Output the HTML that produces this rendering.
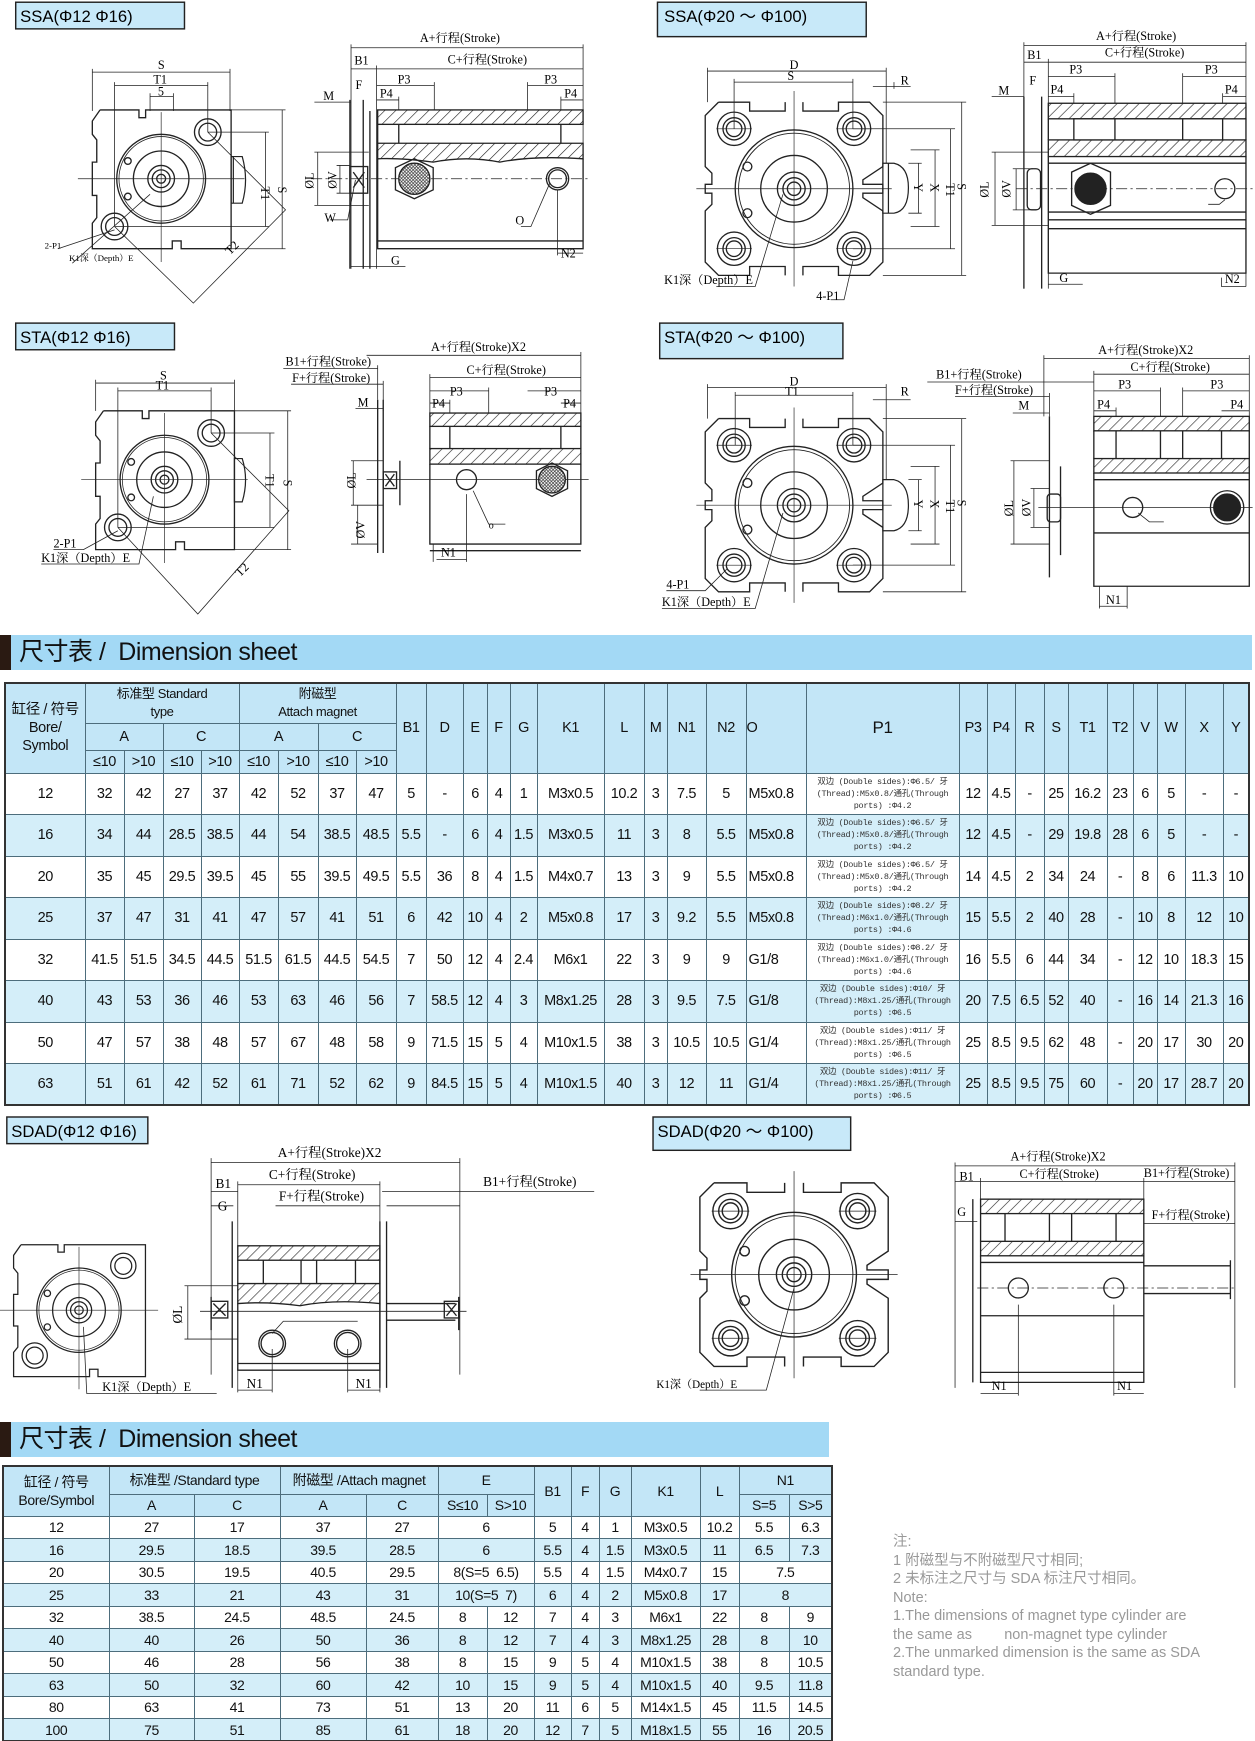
<!DOCTYPE html>
<html><head><meta charset="utf-8">
<style>
html,body{margin:0;padding:0;background:#fff;}
#wrap{position:relative;width:1255px;height:1741px;overflow:hidden;font-family:"Liberation Sans","Noto Sans CJK SC",sans-serif;}
svg{position:absolute;left:0;top:0;}
.ban{position:absolute;left:0;background:#a3d9f5;border-left:11px solid #2a1a12;box-sizing:border-box;font-size:25px;color:#111;padding-left:8px;line-height:35px;letter-spacing:-0.5px;}
table{position:absolute;border-collapse:collapse;table-layout:fixed;font-family:"Liberation Sans","Noto Sans CJK SC",sans-serif;color:#111;}
td{border:1px solid #4d6d7c;text-align:center;padding:0;overflow:hidden;white-space:nowrap;}
#t1{left:4px;top:682px;width:1244px;font-size:14.5px;letter-spacing:-0.4px;border:2px solid #333;}
#t1 .h td{background:#c3e6f7;}
#t1 tr.b td{background:#d4eef9;}
#t1 tr.w td{background:#fff;}
#t1 td.p{font-size:8.5px;line-height:12px;white-space:normal;font-family:"Liberation Mono","Noto Sans CJK SC",monospace;color:#333;letter-spacing:-0.3px;}
#t1 td.o{text-align:left;padding-left:2px;}
#t2{left:2px;top:1465px;width:829px;font-size:14px;letter-spacing:-0.4px;border:2px solid #333;}
#t2 .h td{background:#c3e6f7;}
#t2 tr.b td{background:#d4eef9;}
#t2 tr.w td{background:#fff;}
.note{position:absolute;left:893px;top:1533px;color:#999;font-size:14.5px;line-height:18.5px;width:340px;}
</style></head><body><div id="wrap">
<svg width="1255" height="1741" viewBox="0 0 1130 1568" xmlns="http://www.w3.org/2000/svg" font-family="Liberation Serif,Noto Serif CJK SC,serif" font-size="11">
<defs>
<pattern id="h" width="7" height="7" patternUnits="userSpaceOnUse" patternTransform="rotate(45)"><rect width="7" height="7" fill="#fff"/><line x1="0" y1="0" x2="0" y2="7" stroke="#222" stroke-width="1.1"/></pattern>
<pattern id="m" width="3" height="3" patternUnits="userSpaceOnUse"><rect width="3" height="3" fill="#fff"/><path d="M0 0L3 3M3 0L0 3" stroke="#333" stroke-width="0.6"/></pattern>
<g id="bigf" fill="none" stroke="#222" stroke-width="1.2">
 <path d="M-68,-78 H-40 V-70 H-8 V-78 M8,-78 V-70 H40 V-78 H68 L80,-66 V-20 L62,-8 V-4 H80 V4 H62 V8 L80,20 V66 L68,78 H40 V70 H8 V78 M-8,78 V70 H-40 V78 H-68 L-80,66 V20 L-74,14 V4 H-80 V-4 H-74 V-14 L-80,-20 V-66 L-68,-78"/>
 <circle r="53"/><circle r="50" stroke-width="0.8"/><circle r="30"/><circle r="15"/><circle r="10"/><circle r="6"/>
 <circle cx="-42" cy="-20" r="4"/><circle cx="-42" cy="22" r="4"/>
 <circle cx="-54" cy="-54" r="15"/><circle cx="-54" cy="-54" r="10"/><circle cx="-54" cy="-54" r="7"/>
 <circle cx="54" cy="-54" r="15"/><circle cx="54" cy="-54" r="10"/><circle cx="54" cy="-54" r="7"/>
 <circle cx="-54" cy="54" r="15"/><circle cx="-54" cy="54" r="10"/><circle cx="-54" cy="54" r="7"/>
 <circle cx="54" cy="54" r="15"/><circle cx="54" cy="54" r="10"/><circle cx="54" cy="54" r="7"/>
 <path d="M-88,0 H88 M0,-88 V88 M-70,-54 H-38 M38,-54 H70 M-70,54 H-38 M38,54 H70" stroke-width="0.6"/>
</g>
<g id="smf" fill="none" stroke="#222" stroke-width="1.2">
 <path d="M-55,-62 H-20 V-55 H-14 V-62 H63 V63 H18 V56 H10 V63 H-62 V40 L-58,35 V15 H-62 V-15 H-58 V-35 L-62,-40 V-52 L-55,-62"/>
 <circle r="40"/><circle r="38" stroke-width="0.7"/><circle r="25"/><circle r="12"/><circle r="8"/><circle r="4"/>
 <circle cx="-30" cy="-16" r="3"/><circle cx="-30" cy="16" r="3"/>
 <circle cx="42" cy="-42" r="12"/><circle cx="42" cy="-42" r="8"/>
 <circle cx="-42" cy="43" r="12"/><circle cx="-42" cy="43" r="8"/>
 <path d="M-75,0 H75 M0,-60 V75" stroke-width="0.6"/>
</g>
</defs>
<g font-family="Liberation Sans,sans-serif" font-size="15">
<rect x="14" y="2" width="152" height="24" fill="#c8e9f9" stroke="#222" stroke-width="1.3"/><text x="18" y="20">SSA(Φ12  Φ16)</text>
<rect x="592" y="2" width="188" height="31" fill="#c8e9f9" stroke="#222" stroke-width="1.3"/><text x="598" y="20">SSA(Φ20 ～ Φ100)</text>
<rect x="14" y="291" width="143" height="24" fill="#c8e9f9" stroke="#222" stroke-width="1.3"/><text x="18" y="309">STA(Φ12  Φ16)</text>
<rect x="594" y="291" width="165" height="32" fill="#c8e9f9" stroke="#222" stroke-width="1.3"/><text x="598" y="309">STA(Φ20 ～ Φ100)</text>
<rect x="6" y="1006" width="127" height="24" fill="#c8e9f9" stroke="#222" stroke-width="1.3"/><text x="10" y="1024">SDAD(Φ12  Φ16)</text>
<rect x="588" y="1006" width="178" height="30" fill="#c8e9f9" stroke="#222" stroke-width="1.3"/><text x="592" y="1024">SDAD(Φ20 ～ Φ100)</text>
</g>

<use href="#smf" x="145" y="161"/>
<g fill="none" stroke="#222" stroke-width="1.1"><path d="M208,141 H218 Q224,162 218,183 H208 Z"/><path d="M210,141 V183"/></g>
<g fill="none" stroke="#222" stroke-width="0.7">
<path d="M83,65 H207 M83,62 V100 M207,62 V100 M103,77 H187 M103,74 V204 M187,74 V119 M135,87 H156 M135,84 V100 M156,84 V100"/>
<path d="M187,119 H242 M103,204 H242 M239,119 V204 M208,99 H257 M208,224 H257 M254,99 V224"/>
<path d="M187,119 L257,189 L174,273 L103,204"/>
<path d="M52,224 L103,207 M65,237 L135,175"/>
</g>
<text x="142" y="62">S</text><text x="138" y="75">T1</text><text x="142" y="86">5</text>
<text x="235" y="168" transform="rotate(90 235 168)">T1</text><text x="250" y="168" transform="rotate(90 250 168)">S</text>
<text x="207" y="230" transform="rotate(-45 207 230)">T2</text>
<text x="40" y="224" font-size="8">2-P1</text><text x="62" y="235" font-size="8">K1深（Depth）E</text>

<g fill="none" stroke="#222" stroke-width="0.7">
<path d="M316,43 H525 M316,40 V242 M525,40 V224 M339,62 H525 M316,62 H339 M339,59 V242 M339,77 H391 M391,74 V99 M475,77 H525 M475,74 V99 M339,90 H359 M359,87 V99 M505,90 H525 M505,87 V99"/>
<path d="M283,92 H316 M283,137 H332 M283,185 H332 M286,137 V185 M303,149 H315 M303,174 H315 M306,149 V174"/>
<path d="M280,161 H530" stroke-dasharray="10 3 2 3"/>
<path d="M297,198 H313 L320,162 M469,204 H478 L495,165 M339,240 H365 M316,240 H339 M502,171 V230 M502,228 H525"/>
</g>
<g stroke="#222" stroke-width="1.2" fill="none">
<rect x="340" y="99" width="185" height="13" fill="url(#h)"/>
<path d="M340,129 H525 V143 Q480,140 450,146 Q420,140 390,146 Q360,142 340,143 Z" fill="url(#h)"/>
<path d="M359,112 V129 M505,112 V129 M340,112 V129"/>
<path d="M525,143 V217 H340 V143 M340,217 V224 H525 V217"/>
<path d="M315,90 V242 M327,90 V242 M333,100 V242"/>
<rect x="315" y="150" width="16" height="24"/><path d="M318,155 L328,169 M328,155 L318,169"/>
<polygon points="373,143 390,151 390,171 373,179 356,171 356,151"/><circle cx="373" cy="161" r="14" fill="url(#m)"/>
<circle cx="502" cy="161" r="10"/><circle cx="502" cy="161" r="8"/>
</g>
<text x="378" y="38">A+行程(Stroke)</text><text x="319" y="58">B1</text><text x="403" y="57">C+行程(Stroke)</text>
<text x="320" y="80">F</text><text x="358" y="75">P3</text><text x="490" y="75">P3</text><text x="342" y="88">P4</text><text x="508" y="88">P4</text>
<text x="291" y="90">M</text><text x="292" y="200">W</text><text x="464" y="202">O</text><text x="352" y="238">G</text><text x="505" y="232">N2</text>
<text x="282" y="170" transform="rotate(-90 282 170)">ØL</text><text x="303" y="170" transform="rotate(-90 303 170)">ØV</text>

<use href="#bigf" x="715" y="170"/>
<g fill="none" stroke="#222" stroke-width="1.1"><path d="M795,147 L805,147 Q818,150 818,169 Q818,190 805,192 H795 Z"/><path d="M800,147 V192"/></g>
<g fill="none" stroke="#222" stroke-width="0.7">
<path d="M637,64 H798 M637,61 V92 M798,61 V147 M661,74 H768 M661,71 V116 M768,71 V116 M786,78 H820 M805,74 V80"/>
<path d="M818,147 H830 M818,192 H830 M827,147 V192 M820,135 H846 M820,204 H846 M842,135 V204 M768,116 H860 M768,224 H860 M856,116 V224 M795,92 H870 M795,248 H870 M866,92 V248"/>
<path d="M645,258 H680 L705,175 M748,270 H760 L768,235"/>
</g>
<text x="711" y="62">D</text><text x="709" y="72">S</text><text x="811" y="76">R</text>
<text x="823" y="165" transform="rotate(90 823 165)">Y</text><text x="838" y="165" transform="rotate(90 838 165)">X</text>
<text x="852" y="165" transform="rotate(90 852 165)">T1</text><text x="862" y="165" transform="rotate(90 862 165)">S</text>
<text x="598" y="256">K1深（Depth）E</text><text x="735" y="270">4-P1</text>

<g fill="none" stroke="#222" stroke-width="0.7">
<path d="M922,41 H1122 M922,38 V260 M1122,38 V258 M944,56 H1122 M922,56 H944 M944,53 V260 M944,69 H1004 M1004,66 V93 M1065,69 H1122 M1065,66 V93 M944,87 H967 M967,84 V93 M1101,87 H1122 M1101,84 V93"/>
<path d="M893,87 H922 M893,137 H944 M893,203 H944 M896,137 V203 M912,152 H930 M912,189 H930 M915,152 V189"/>
<path d="M915,170 H1128" stroke-dasharray="10 3 2 3"/>
<path d="M1088,184 H1098 L1103,180 M944,256 H975 M1100,250 V258 H1122"/>
</g>
<g stroke="#222" stroke-width="1.2" fill="none">
<rect x="944" y="93" width="178" height="14" fill="url(#h)"/>
<rect x="944" y="126" width="178" height="15" fill="url(#h)"/>
<rect x="967" y="107" width="134" height="19" fill="#fff"/><path d="M944,107 V126 M1122,107 V126 M1004,107 V126 M1065,107 V126"/>
<path d="M944,141 V246 H1122 V141 M944,147 H1122 M944,191 H1122 M944,198 H1122 M944,206 H1122"/>
<path d="M922,87 V260 M938,87 V260"/>
<rect x="925" y="152" width="12" height="37" rx="4"/>
<polygon points="982,147 1000,155 1000,185 982,193 965,185 965,155"/><circle cx="982" cy="170" r="14" fill="#222"/>
<circle cx="1103" cy="170" r="9"/>
</g>
<text x="987" y="36">A+行程(Stroke)</text><text x="925" y="53">B1</text><text x="995" y="51">C+行程(Stroke)</text>
<text x="927" y="76">F</text><text x="963" y="66">P3</text><text x="1085" y="66">P3</text><text x="946" y="84">P4</text><text x="1103" y="84">P4</text>
<text x="899" y="85">M</text><text x="954" y="254">G</text><text x="1103" y="255">N2</text>
<text x="890" y="178" transform="rotate(-90 890 178)">ØL</text><text x="910" y="178" transform="rotate(-90 910 178)">ØV</text>

<use href="#smf" x="148" y="432"/>
<g fill="none" stroke="#222" stroke-width="1.1"><path d="M211,413 H218 Q224,432 218,452 H211 Z"/></g>
<g fill="none" stroke="#222" stroke-width="0.7">
<path d="M86,345 H211 M86,342 V370 M211,342 V370 M106,352 H190 M106,349 V475 M190,349 V390"/>
<path d="M190,390 H247 M106,475 H247 M243,390 V475 M211,370 H262 M211,495 H262 M259,370 V495"/>
<path d="M190,390 L260,460 L178,553 L106,475"/>
<path d="M48,495 H75 L106,478 M37,508 H125 L138,447"/>
</g>
<text x="144" y="342">S</text><text x="140" y="351">T1</text>
<text x="239" y="427" transform="rotate(90 239 427)">T1</text><text x="255" y="432" transform="rotate(90 255 432)">S</text>
<text x="216" y="520" transform="rotate(-45 216 520)">T2</text>
<text x="48" y="493">2-P1</text><text x="37" y="506">K1深（Depth）E</text>

<g fill="none" stroke="#222" stroke-width="0.7">
<path d="M330,320 H523 M523,317 V420 M255,332 H340 M340,329 V360 M387,340 H523 M387,337 V372 M262,346 H345 M345,343 V370 M387,352 H440 M440,349 V372 M475,352 H523 M387,363 H405 M405,360 V372 M505,363 H523"/>
<path d="M320,368 H345 M316,415 H345 M316,455 H345 M318,415 V455 M322,455 V490 M316,490 H340 M330,432 H530" />
<path d="M426,442 L440,472 H455 M393,504 H420 M390,490 V506 M420,445 V506"/>
</g>
<g stroke="#222" stroke-width="1.2" fill="none">
<rect x="387" y="372" width="136" height="12" fill="url(#h)"/>
<rect x="387" y="404" width="136" height="14" fill="url(#h)"/>
<path d="M387,384 V404 M523,384 V404 M405,384 V404 M505,384 V404"/>
<path d="M387,418 V490 H523 V418 M387,496 H523"/>
<path d="M340,360 V498 M345,360 V498 M360,415 V455"/>
<rect x="345" y="425" width="12" height="15"/><path d="M347,427 L355,438 M355,427 L347,438"/>
<polygon points="497,417 511,424 511,440 497,447 483,440 483,424"/><circle cx="497" cy="432" r="12" fill="url(#m)"/>
<circle cx="420" cy="432" r="9"/>
</g>
<text x="388" y="316">A+行程(Stroke)X2</text><text x="257" y="329">B1+行程(Stroke)</text><text x="420" y="337">C+行程(Stroke)</text>
<text x="263" y="344">F+行程(Stroke)</text><text x="405" y="356">P3</text><text x="490" y="356">P3</text><text x="389" y="367">P4</text><text x="507" y="367">P4</text>
<text x="322" y="366">M</text><text x="440" y="476" font-size="9">o</text><text x="397" y="501">N1</text>
<text x="320" y="440" transform="rotate(-90 320 440)">ØL</text><text x="328" y="485" transform="rotate(-90 328 485)">ØV</text>

<use href="#bigf" x="715" y="455"/>
<g fill="none" stroke="#222" stroke-width="1.1"><path d="M795,432 L805,432 Q818,435 818,455 Q818,475 805,478 H795 Z"/></g>
<g fill="none" stroke="#222" stroke-width="0.7">
<path d="M637,349 H798 M637,346 V377 M798,346 V432 M662,356 H768 M662,353 V401 M768,353 V401 M786,360 H820"/>
<path d="M818,432 H830 M818,478 H830 M827,432 V478 M820,420 H846 M820,490 H846 M842,420 V490 M768,401 H860 M768,509 H860 M856,401 V509 M795,377 H870 M795,533 H870 M866,377 V533"/>
<path d="M600,532 H635 L655,512 M596,548 H680 L705,462"/>
</g>
<text x="711" y="347">D</text><text x="707" y="356">T1</text><text x="811" y="356">R</text>
<text x="823" y="450" transform="rotate(90 823 450)">Y</text><text x="838" y="450" transform="rotate(90 838 450)">X</text>
<text x="852" y="450" transform="rotate(90 852 450)">T1</text><text x="862" y="450" transform="rotate(90 862 450)">S</text>
<text x="600" y="530">4-P1</text><text x="596" y="546">K1深（Depth）E</text>

<g fill="none" stroke="#222" stroke-width="0.7">
<path d="M940,323 H1125 M940,320 V375 M1125,320 V375 M835,344 H985 M985,334 V375 M985,337 H1125 M860,357 H945 M945,354 V375 M985,352 H1045 M1045,349 V375 M1065,352 H1125 M1065,349 V375 M985,370 H1005 M1005,367 V375 M1100,370 H1125"/>
<path d="M912,372 H945 M910,415 H945 M910,490 H945 M913,415 V490 M928,440 H945 M928,475 H945 M931,440 V475 M935,457 H1128"/>
<path d="M1025,462 L1035,470 H1048 M990,546 H1015 M990,528 V548 M1015,528 V548"/>
</g>
<g stroke="#222" stroke-width="1.2" fill="none">
<rect x="985" y="375" width="140" height="13" fill="url(#h)"/>
<rect x="985" y="413" width="140" height="13" fill="url(#h)"/>
<path d="M985,388 V413 M1125,388 V413 M1005,388 V413 M1045,388 V413 M1065,388 V413 M1100,388 V413"/>
<path d="M985,426 V528 H1125 V426 M985,432 H1125 M985,480 H1125"/>
<path d="M945,375 V520 M955,420 V500"/>
<rect x="943" y="445" width="12" height="25" rx="3"/>
<circle cx="1105" cy="457" r="15"/><circle cx="1105" cy="457" r="12" fill="#222"/>
<circle cx="1020" cy="457" r="9"/>
</g>
<text x="989" y="319">A+行程(Stroke)X2</text><text x="843" y="341">B1+行程(Stroke)</text><text x="1018" y="334">C+行程(Stroke)</text>
<text x="860" y="355">F+行程(Stroke)</text><text x="1007" y="350">P3</text><text x="1090" y="350">P3</text><text x="988" y="368">P4</text><text x="1108" y="368">P4</text>
<text x="917" y="369">M</text><text x="996" y="544">N1</text>
<text x="912" y="465" transform="rotate(-90 912 465)">ØL</text><text x="928" y="465" transform="rotate(-90 928 465)">ØV</text>

<g transform="translate(71,1180) scale(0.95)"><use href="#smf"/></g>
<path d="M75,1195 L78,1255 H195" fill="none" stroke="#222" stroke-width="0.7"/>
<text x="92" y="1253">K1深（Depth）E</text>

<g fill="none" stroke="#222" stroke-width="0.7">
<path d="M190,1047 H414 M190,1043 V1238 M414,1043 V1238 M214,1067 H342 M214,1064 V1122 M342,1064 V1122 M190,1073 H214 M190,1086 H210 M344,1073 H414 M414,1073 H535 M248,1086 H342 M348,1086 H414"/>
<path d="M166,1158 H214 M166,1206 H214 M169,1158 V1206 M180,1181 H420"/>
<path d="M214,1252 H245 M245,1215 V1254 M313,1215 V1254 M313,1252 H342 M342,1232 V1254 M214,1232 V1254"/>
<path d="M245,1201 L255,1190 H322"/>
</g>
<g stroke="#222" stroke-width="1.2" fill="none">
<rect x="214" y="1122" width="128" height="13" fill="url(#h)"/>
<path d="M214,1156 H342 V1174 Q300,1170 270,1176 Q240,1172 214,1174 Z" fill="url(#h)"/>
<path d="M214,1135 V1156 M342,1135 V1156 M237,1135 V1156 M271,1135 V1156 M285,1135 V1156 M320,1135 V1156"/>
<path d="M214,1174 V1234 H342 V1174 M214,1228 H342"/>
<path d="M190,1168 V1198 M209,1100 V1250 M342,1100 V1250 M348,1100 V1250 M348,1174 H410 M348,1189 H410 M413,1168 V1198"/>
<rect x="190" y="1172" width="15" height="15"/><path d="M192,1174 L203,1185 M203,1174 L192,1185"/>
<rect x="400" y="1172" width="13" height="15"/><path d="M402,1174 L411,1185 M411,1174 L402,1185"/>
<circle cx="245" cy="1210" r="12"/><circle cx="245" cy="1210" r="10"/><circle cx="313" cy="1210" r="12"/><circle cx="313" cy="1210" r="10"/>
</g>
<text x="250" y="1042" font-size="12">A+行程(Stroke)X2</text><text x="242" y="1062" font-size="12">C+行程(Stroke)</text><text x="194" y="1070" font-size="12">B1</text>
<text x="251" y="1081" font-size="12">F+行程(Stroke)</text><text x="196" y="1090" font-size="12">G</text><text x="435" y="1068" font-size="12">B1+行程(Stroke)</text>
<text x="222" y="1250" font-size="12">N1</text><text x="320" y="1250" font-size="12">N1</text>
<text x="164" y="1192" transform="rotate(-90 164 1192)" font-size="12">ØL</text>

<g transform="translate(715,1148) scale(1.06)"><use href="#bigf"/></g>
<path d="M715,1160 L690,1252 H630" fill="none" stroke="#222" stroke-width="0.7"/>
<text x="591" y="1250" font-size="10">K1深（Depth）E</text>

<g fill="none" stroke="#222" stroke-width="0.7">
<path d="M860,1050 H1112 M860,1047 V1250 M1112,1047 V1250 M883,1064 H1030 M860,1064 H883 M1030,1064 H1112 M883,1061 V1080 M1030,1061 V1080 M860,1100 H880 M1030,1102 H1112"/>
<path d="M883,1255 H917 M917,1175 V1257 M1003,1175 V1257 M1003,1255 H1030"/>
</g>
<g stroke="#222" stroke-width="1.2" fill="none">
<rect x="883" y="1080" width="147" height="13" fill="url(#h)"/>
<rect x="883" y="1118" width="147" height="13" fill="url(#h)"/>
<path d="M883,1093 V1118 M1030,1093 V1118 M905,1093 V1118 M945,1093 V1118 M965,1093 V1118 M1005,1093 V1118"/>
<path d="M883,1131 V1245 H1030 V1131 M883,1137 H1030 M883,1185 H1030 M883,1236 H1030"/>
<path d="M876,1080 V1245 M1030,1140 H1108 M1030,1165 H1108 M1108,1135 V1170"/>
<circle cx="917" cy="1160" r="9"/><circle cx="1003" cy="1160" r="9"/>
</g>
<path d="M880,1160 H1112" fill="none" stroke="#222" stroke-width="0.6" stroke-dasharray="10 3 2 3"/>
<text x="910" y="1045">A+行程(Stroke)X2</text><text x="918" y="1061">C+行程(Stroke)</text><text x="864" y="1063">B1</text>
<text x="1030" y="1060">B1+行程(Stroke)</text><text x="862" y="1095">G</text><text x="1037" y="1098">F+行程(Stroke)</text>
<text x="893" y="1252">N1</text><text x="1006" y="1252">N1</text>
</svg>

<div class="ban" style="top:635px;width:1252px;height:35px;">尺寸表 / &nbsp;Dimension sheet</div>
<div class="ban" style="top:1422px;width:829px;height:35px;">尺寸表 / &nbsp;Dimension sheet</div>

<table id="t1">
<colgroup><col style="width:80px"><col style="width:39px"><col style="width:39px"><col style="width:38px"><col style="width:38px"><col style="width:39px"><col style="width:40px"><col style="width:38px"><col style="width:40px"><col style="width:30px"><col style="width:37px"><col style="width:24px"><col style="width:23px"><col style="width:27px"><col style="width:67px"><col style="width:40px"><col style="width:23px"><col style="width:39px"><col style="width:40px"><col style="width:60px"><col style="width:153px"><col style="width:28px"><col style="width:28px"><col style="width:29px"><col style="width:24px"><col style="width:39px"><col style="width:26px"><col style="width:24px"><col style="width:28px"><col style="width:38px"><col style="width:26px"></colgroup>
<tr class="h" style="height:40px"><td rowspan="3" style="white-space:normal;line-height:18px">缸径 / 符号<br>Bore/<br>Symbol</td><td colspan="4" style="white-space:normal;line-height:18px;font-size:13px">标准型 Standard<br>type</td><td colspan="4" style="white-space:normal;line-height:18px;font-size:13px">附磁型<br>Attach magnet</td><td rowspan="3">B1</td><td rowspan="3">D</td><td rowspan="3">E</td><td rowspan="3">F</td><td rowspan="3">G</td><td rowspan="3">K1</td><td rowspan="3">L</td><td rowspan="3">M</td><td rowspan="3">N1</td><td rowspan="3">N2</td><td rowspan="3" style="text-align:left">O</td><td rowspan="3" style="font-size:17px">P1</td><td rowspan="3">P3</td><td rowspan="3">P4</td><td rowspan="3">R</td><td rowspan="3">S</td><td rowspan="3">T1</td><td rowspan="3">T2</td><td rowspan="3">V</td><td rowspan="3">W</td><td rowspan="3">X</td><td rowspan="3">Y</td></tr>
<tr class="h" style="height:27px"><td colspan="2">A</td><td colspan="2">C</td><td colspan="2">A</td><td colspan="2">C</td></tr>
<tr class="h" style="height:23px"><td>≤10</td><td>&gt;10</td><td>≤10</td><td>&gt;10</td><td>≤10</td><td>&gt;10</td><td>≤10</td><td>&gt;10</td></tr>
<tr class="w" style="height:41.5px"><td>12</td><td>32</td><td>42</td><td>27</td><td>37</td><td>42</td><td>52</td><td>37</td><td>47</td><td>5</td><td>-</td><td>6</td><td>4</td><td>1</td><td>M3x0.5</td><td>10.2</td><td>3</td><td>7.5</td><td>5</td><td class="o">M5x0.8</td><td class="p">双边 (Double sides):Φ6.5/ 牙<br>(Thread):M5x0.8/通孔(Through<br>ports) :Φ4.2</td><td>12</td><td>4.5</td><td>-</td><td>25</td><td>16.2</td><td>23</td><td>6</td><td>5</td><td>-</td><td>-</td></tr>
<tr class="b" style="height:41.5px"><td>16</td><td>34</td><td>44</td><td>28.5</td><td>38.5</td><td>44</td><td>54</td><td>38.5</td><td>48.5</td><td>5.5</td><td>-</td><td>6</td><td>4</td><td>1.5</td><td>M3x0.5</td><td>11</td><td>3</td><td>8</td><td>5.5</td><td class="o">M5x0.8</td><td class="p">双边 (Double sides):Φ6.5/ 牙<br>(Thread):M5x0.8/通孔(Through<br>ports) :Φ4.2</td><td>12</td><td>4.5</td><td>-</td><td>29</td><td>19.8</td><td>28</td><td>6</td><td>5</td><td>-</td><td>-</td></tr>
<tr class="w" style="height:41.5px"><td>20</td><td>35</td><td>45</td><td>29.5</td><td>39.5</td><td>45</td><td>55</td><td>39.5</td><td>49.5</td><td>5.5</td><td>36</td><td>8</td><td>4</td><td>1.5</td><td>M4x0.7</td><td>13</td><td>3</td><td>9</td><td>5.5</td><td class="o">M5x0.8</td><td class="p">双边 (Double sides):Φ6.5/ 牙<br>(Thread):M5x0.8/通孔(Through<br>ports) :Φ4.2</td><td>14</td><td>4.5</td><td>2</td><td>34</td><td>24</td><td>-</td><td>8</td><td>6</td><td>11.3</td><td>10</td></tr>
<tr class="b" style="height:41.5px"><td>25</td><td>37</td><td>47</td><td>31</td><td>41</td><td>47</td><td>57</td><td>41</td><td>51</td><td>6</td><td>42</td><td>10</td><td>4</td><td>2</td><td>M5x0.8</td><td>17</td><td>3</td><td>9.2</td><td>5.5</td><td class="o">M5x0.8</td><td class="p">双边 (Double sides):Φ8.2/ 牙<br>(Thread):M6x1.0/通孔(Through<br>ports) :Φ4.6</td><td>15</td><td>5.5</td><td>2</td><td>40</td><td>28</td><td>-</td><td>10</td><td>8</td><td>12</td><td>10</td></tr>
<tr class="w" style="height:41.5px"><td>32</td><td>41.5</td><td>51.5</td><td>34.5</td><td>44.5</td><td>51.5</td><td>61.5</td><td>44.5</td><td>54.5</td><td>7</td><td>50</td><td>12</td><td>4</td><td>2.4</td><td>M6x1</td><td>22</td><td>3</td><td>9</td><td>9</td><td class="o">G1/8</td><td class="p">双边 (Double sides):Φ8.2/ 牙<br>(Thread):M6x1.0/通孔(Through<br>ports) :Φ4.6</td><td>16</td><td>5.5</td><td>6</td><td>44</td><td>34</td><td>-</td><td>12</td><td>10</td><td>18.3</td><td>15</td></tr>
<tr class="b" style="height:41.5px"><td>40</td><td>43</td><td>53</td><td>36</td><td>46</td><td>53</td><td>63</td><td>46</td><td>56</td><td>7</td><td>58.5</td><td>12</td><td>4</td><td>3</td><td>M8x1.25</td><td>28</td><td>3</td><td>9.5</td><td>7.5</td><td class="o">G1/8</td><td class="p">双边 (Double sides):Φ10/ 牙<br>(Thread):M8x1.25/通孔(Through<br>ports) :Φ6.5</td><td>20</td><td>7.5</td><td>6.5</td><td>52</td><td>40</td><td>-</td><td>16</td><td>14</td><td>21.3</td><td>16</td></tr>
<tr class="w" style="height:41.5px"><td>50</td><td>47</td><td>57</td><td>38</td><td>48</td><td>57</td><td>67</td><td>48</td><td>58</td><td>9</td><td>71.5</td><td>15</td><td>5</td><td>4</td><td>M10x1.5</td><td>38</td><td>3</td><td>10.5</td><td>10.5</td><td class="o">G1/4</td><td class="p">双边 (Double sides):Φ11/ 牙<br>(Thread):M8x1.25/通孔(Through<br>ports) :Φ6.5</td><td>25</td><td>8.5</td><td>9.5</td><td>62</td><td>48</td><td>-</td><td>20</td><td>17</td><td>30</td><td>20</td></tr>
<tr class="b" style="height:41.5px"><td>63</td><td>51</td><td>61</td><td>42</td><td>52</td><td>61</td><td>71</td><td>52</td><td>62</td><td>9</td><td>84.5</td><td>15</td><td>5</td><td>4</td><td>M10x1.5</td><td>40</td><td>3</td><td>12</td><td>11</td><td class="o">G1/4</td><td class="p">双边 (Double sides):Φ11/ 牙<br>(Thread):M8x1.25/通孔(Through<br>ports) :Φ6.5</td><td>25</td><td>8.5</td><td>9.5</td><td>75</td><td>60</td><td>-</td><td>20</td><td>17</td><td>28.7</td><td>20</td></tr>
</table>

<table id="t2">
<colgroup><col style="width:106px"><col style="width:85px"><col style="width:86px"><col style="width:86px"><col style="width:72px"><col style="width:49px"><col style="width:47px"><col style="width:37px"><col style="width:28px"><col style="width:32px"><col style="width:69px"><col style="width:39px"><col style="width:50px"><col style="width:43px"></colgroup>
<tr class="h" style="height:28px"><td rowspan="2" style="white-space:normal;line-height:18px">缸径 / 符号<br>Bore/Symbol</td><td colspan="2">标准型 /Standard type</td><td colspan="2">附磁型 /Attach magnet</td><td colspan="2">E</td><td rowspan="2">B1</td><td rowspan="2">F</td><td rowspan="2">G</td><td rowspan="2">K1</td><td rowspan="2">L</td><td colspan="2">N1</td></tr>
<tr class="h" style="height:22px"><td>A</td><td>C</td><td>A</td><td>C</td><td>S≤10</td><td>S&gt;10</td><td>S=5</td><td>S&gt;5</td></tr>
<tr class="w" style="height:22.5px"><td>12</td><td>27</td><td>17</td><td>37</td><td>27</td><td colspan="2">6</td><td>5</td><td>4</td><td>1</td><td>M3x0.5</td><td>10.2</td><td>5.5</td><td>6.3</td></tr>
<tr class="b" style="height:22.5px"><td>16</td><td>29.5</td><td>18.5</td><td>39.5</td><td>28.5</td><td colspan="2">6</td><td>5.5</td><td>4</td><td>1.5</td><td>M3x0.5</td><td>11</td><td>6.5</td><td>7.3</td></tr>
<tr class="w" style="height:22.5px"><td>20</td><td>30.5</td><td>19.5</td><td>40.5</td><td>29.5</td><td colspan="2">8(S=5 &nbsp;6.5)</td><td>5.5</td><td>4</td><td>1.5</td><td>M4x0.7</td><td>15</td><td colspan="2">7.5</td></tr>
<tr class="b" style="height:22.5px"><td>25</td><td>33</td><td>21</td><td>43</td><td>31</td><td colspan="2">10(S=5 &nbsp;7)</td><td>6</td><td>4</td><td>2</td><td>M5x0.8</td><td>17</td><td colspan="2">8</td></tr>
<tr class="w" style="height:22.5px"><td>32</td><td>38.5</td><td>24.5</td><td>48.5</td><td>24.5</td><td>8</td><td>12</td><td>7</td><td>4</td><td>3</td><td>M6x1</td><td>22</td><td>8</td><td>9</td></tr>
<tr class="b" style="height:22.5px"><td>40</td><td>40</td><td>26</td><td>50</td><td>36</td><td>8</td><td>12</td><td>7</td><td>4</td><td>3</td><td>M8x1.25</td><td>28</td><td>8</td><td>10</td></tr>
<tr class="w" style="height:22.5px"><td>50</td><td>46</td><td>28</td><td>56</td><td>38</td><td>8</td><td>15</td><td>9</td><td>5</td><td>4</td><td>M10x1.5</td><td>38</td><td>8</td><td>10.5</td></tr>
<tr class="b" style="height:22.5px"><td>63</td><td>50</td><td>32</td><td>60</td><td>42</td><td>10</td><td>15</td><td>9</td><td>5</td><td>4</td><td>M10x1.5</td><td>40</td><td>9.5</td><td>11.8</td></tr>
<tr class="w" style="height:22.5px"><td>80</td><td>63</td><td>41</td><td>73</td><td>51</td><td>13</td><td>20</td><td>11</td><td>6</td><td>5</td><td>M14x1.5</td><td>45</td><td>11.5</td><td>14.5</td></tr>
<tr class="b" style="height:22.5px"><td>100</td><td>75</td><td>51</td><td>85</td><td>61</td><td>18</td><td>20</td><td>12</td><td>7</td><td>5</td><td>M18x1.5</td><td>55</td><td>16</td><td>20.5</td></tr>
</table>

<div class="note">注:<br>1 附磁型与不附磁型尺寸相同;<br>2 未标注之尺寸与 SDA 标注尺寸相同。<br>Note:<br>1.The dimensions of magnet type cylinder are<br>the same as &nbsp;&nbsp;&nbsp;&nbsp;&nbsp;&nbsp;&nbsp;non-magnet type cylinder<br>2.The unmarked dimension is the same as SDA<br>standard type.</div>
</div></body></html>
